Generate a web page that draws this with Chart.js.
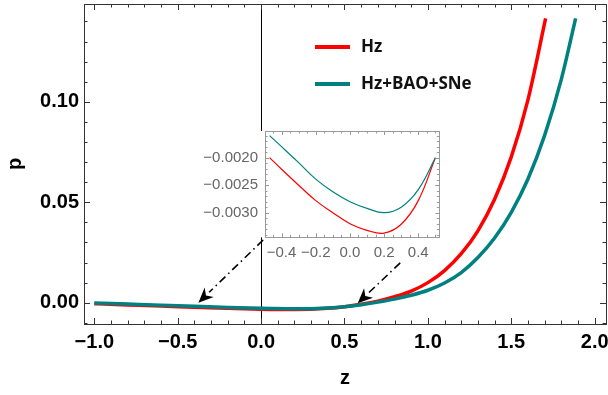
<!DOCTYPE html>
<html>
<head>
<meta charset="utf-8">
<script src="https://cdn.jsdelivr.net/npm/chart.js@4.4.1/dist/chart.umd.min.js"></script>
<style>
  body { margin: 0; background: #fff; }
  #wrap { position: relative; width: 608px; height: 395px; }
  #inset { position: absolute; left: 190px; top: 125px; }
  .legLine { position: absolute; left: 315px; width: 35px; height: 3.5px; }
  .legText { position: absolute; left: 361px; font: bold 17px "Open Sans", sans-serif; color: #111; line-height: 20px; }
</style>
</head>
<body>
<div id="wrap">
  <canvas id="main" width="608" height="395"></canvas>
  <canvas id="inset" width="255" height="140"></canvas>
  <div class="legLine" style="top:45px;background:#ff0000"></div>
  <div class="legText" style="top:36px">Hz</div>
  <div class="legLine" style="top:82px;background:#008080"></div>
  <div class="legText" style="top:73px">Hz+BAO+SNe</div>
</div>
<script>
// colours
const RED = "#ff0000";
const TEAL = "#008080";

// main plot: Hz
const zHz = [-1.0, -0.8, -0.6, -0.4, -0.2, 0.0, 0.2, 0.4, 0.5, 0.6, 0.7, 0.8, 0.9, 1.0, 1.1, 1.2, 1.3, 1.4, 1.5, 1.6, 1.706];
const pHz = [-0.0005, -0.0011, -0.0017, -0.00221, -0.00278, -0.0032, -0.00337, -0.00278, -0.00200, -0.0008, 0.0008, 0.0030, 0.0058, 0.0100, 0.0160, 0.0244, 0.0358, 0.0515, 0.0726, 0.1010, 0.1415];

// main plot: Hz+BAO+SNe
const zAll = [-1.0, -0.8, -0.6, -0.4, -0.2, 0.0, 0.2, 0.4, 0.5, 0.6, 0.7, 0.8, 0.9, 1.0, 1.1, 1.2, 1.3, 1.4, 1.5, 1.6, 1.7, 1.8, 1.886];
const pAll = [-0.0001, -0.0007, -0.0013, -0.0018, -0.00239, -0.0028, -0.0030, -0.00258, -0.00200, -0.0010, 0.0003, 0.0018, 0.0037, 0.0062, 0.0098, 0.0150, 0.0225, 0.0322, 0.0450, 0.0616, 0.0833, 0.1112, 0.1415];

// inset (zoom on -0.5 < z < 0.5)
const zInset = [-0.47, -0.4, -0.3, -0.2, -0.1, 0.0, 0.1, 0.2, 0.3, 0.4, 0.5];
const pHzInset = [-0.00200, -0.00221, -0.00250, -0.00278, -0.00300, -0.00320, -0.00332, -0.00337, -0.00321, -0.00278, -0.00200];
const pAllInset = [-0.00160, -0.00180, -0.00209, -0.00239, -0.00262, -0.00280, -0.00292, -0.00300, -0.00290, -0.00258, -0.00200];

// tick values
const xMajor = [-1.0, -0.5, 0.0, 0.5, 1.0, 1.5, 2.0];
const yMajor = [0.0, 0.05, 0.10];
const xInsetMajor = [-0.4, -0.2, 0.0, 0.2, 0.4];
const yInsetMajor = [-0.0030, -0.0025, -0.0020];

// arrows (z, p) from inset to the curves
const arrowFrom = [[0.012, 0.0312], [0.834, 0.0198]];
const arrowTo = [[-0.376, 0.0], [0.579, -0.0003]];

function pts(xs, ys) { return xs.map((x, i) => ({ x: x, y: ys[i] })); }
function fmt(v, d) { return (v < -1e-9 ? "\u2212" : "") + Math.abs(v).toFixed(d); }
function range(a, b, step) { const out = []; for (let v = a; v <= b + step / 1e3; v += step) out.push(+v.toFixed(6)); return out; }
function noPad(s) { s.paddingLeft = 0; s.paddingRight = 0; s.paddingTop = 0; s.paddingBottom = 0; }

// frame with inward ticks on all four sides
function drawFrame(chart, o) {
  const { ctx, chartArea: a, scales: { x, y } } = chart;
  ctx.save();
  ctx.strokeStyle = o.color;
  ctx.lineWidth = 1;
  ctx.strokeRect(Math.round(a.left) + 0.5, Math.round(a.top) + 0.5, Math.round(a.right - a.left), Math.round(a.bottom - a.top));
  ctx.beginPath();
  o.xTicks.forEach(([v, len]) => {
    const px = Math.round(x.getPixelForValue(v)) + 0.5;
    ctx.moveTo(px, a.bottom); ctx.lineTo(px, a.bottom - len);
    ctx.moveTo(px, a.top); ctx.lineTo(px, a.top + len);
  });
  o.yTicks.forEach(([v, len]) => {
    const py = Math.round(y.getPixelForValue(v)) + 0.5;
    ctx.moveTo(a.left, py); ctx.lineTo(a.left + len, py);
    ctx.moveTo(a.right, py); ctx.lineTo(a.right - len, py);
  });
  ctx.stroke();
  ctx.restore();
}

function tickList(minor, major, lMinor, lMajor, lo, hi) {
  return range(lo, hi, minor).map(v => [v, major.some(m => Math.abs(m - v) < minor / 10) ? lMajor : lMinor]);
}

const mainFrame = {
  id: "mainFrame",
  beforeDatasetsDraw(chart) {
    const { ctx, chartArea: a, scales: { x } } = chart;
    const px = Math.round(x.getPixelForValue(0)) + 0.5;
    ctx.save();
    ctx.strokeStyle = "#000";
    ctx.lineWidth = 1;
    ctx.beginPath(); ctx.moveTo(px, a.top); ctx.lineTo(px, a.bottom); ctx.stroke();
    ctx.restore();
  },
  afterDatasetsDraw(chart) {
    const { ctx, scales: { x, y } } = chart;
    drawFrame(chart, {
      color: "#333",
      xTicks: tickList(0.1, xMajor, 3.5, 6, -1.0, 2.0),
      yTicks: tickList(0.01, yMajor, 3.5, 6, -0.01, 0.14)
    });
    ctx.save();
    arrowFrom.forEach((f, i) => {
      const x1 = x.getPixelForValue(f[0]), y1 = y.getPixelForValue(f[1]);
      const x2 = x.getPixelForValue(arrowTo[i][0]), y2 = y.getPixelForValue(arrowTo[i][1]);
      const len = Math.hypot(x2 - x1, y2 - y1), ux = (x2 - x1) / len, uy = (y2 - y1) / len;
      const hl = 15, hw = 6.5;
      ctx.strokeStyle = "#000";
      ctx.lineWidth = 1.6;
      ctx.setLineDash([8, 4, 1.5, 4]);
      ctx.beginPath(); ctx.moveTo(x1, y1); ctx.lineTo(x2 - ux * hl, y2 - uy * hl); ctx.stroke();
      ctx.setLineDash([]);
      ctx.fillStyle = "#000";
      ctx.beginPath();
      ctx.moveTo(x2, y2);
      ctx.lineTo(x2 - ux * hl - uy * hw, y2 - uy * hl + ux * hw);
      ctx.lineTo(x2 - ux * hl * 0.7, y2 - uy * hl * 0.7);
      ctx.lineTo(x2 - ux * hl + uy * hw, y2 - uy * hl - ux * hw);
      ctx.closePath(); ctx.fill();
    });
    ctx.restore();
  }
};

const insetFrame = {
  id: "insetFrame",
  beforeDraw(chart) {
    const { ctx, chartArea: a } = chart;
    ctx.save(); ctx.fillStyle = "#fff";
    ctx.fillRect(a.left - 5, a.top, a.right - a.left + 5, a.bottom - a.top);
    ctx.restore();
  },
  afterDatasetsDraw(chart) {
    drawFrame(chart, {
      color: "#999",
      xTicks: tickList(0.05, xInsetMajor, 2.5, 4, -0.45, 0.5),
      yTicks: tickList(0.0001, yInsetMajor, 2.5, 4, -0.0034, -0.0016)
    });
  }
};

const boldTick = { family: "Liberation Sans", size: 20, weight: "bold" };

new Chart(document.getElementById("main"), {
  type: "line",
  data: {
    datasets: [
      { label: "Hz+BAO+SNe", data: pts(zAll, pAll), borderColor: TEAL, borderWidth: 3.5, pointRadius: 0, cubicInterpolationMode: "monotone", order: 0 },
      { label: "Hz", data: pts(zHz, pHz), borderColor: RED, borderWidth: 3.5, pointRadius: 0, cubicInterpolationMode: "monotone", order: 1 }
    ]
  },
  options: {
    responsive: false,
    animation: false,
    layout: { padding: { top: 4, right: 2, left: 0, bottom: 0 } },
    plugins: { legend: { display: false }, tooltip: { enabled: false } },
    scales: {
      x: {
        type: "linear", min: -1.062, max: 2.068,
        grid: { display: false, drawTicks: false }, border: { display: false },
        afterBuildTicks: s => { s.ticks = xMajor.map(v => ({ value: v })); },
        afterFit: s => { s.height = 71; noPad(s); },
        ticks: { callback: v => fmt(v, 1), color: "#000", font: boldTick, padding: 6, maxRotation: 0, autoSkip: false },
        title: { display: true, text: "z", color: "#000", font: boldTick, padding: { top: 0, bottom: 5 } }
      },
      y: {
        type: "linear", min: -0.0106, max: 0.1487,
        grid: { display: false, drawTicks: false }, border: { display: false },
        afterBuildTicks: s => { s.ticks = yMajor.map(v => ({ value: v })); },
        afterFit: s => { s.width = 84; noPad(s); },
        ticks: { callback: v => fmt(v, 2), color: "#000", font: boldTick, padding: 5, autoSkip: false },
        title: { display: true, text: "p", color: "#000", font: boldTick, padding: { top: 3, bottom: 0 } }
      }
    }
  },
  plugins: [mainFrame]
});

const insetFont = { family: "Liberation Sans", size: 15 };

new Chart(document.getElementById("inset"), {
  type: "line",
  data: {
    datasets: [
      { label: "Hz+BAO+SNe", data: pts(zInset, pAllInset), borderColor: TEAL, borderWidth: 1.2, pointRadius: 0, tension: 0.4 },
      { label: "Hz", data: pts(zInset, pHzInset), borderColor: RED, borderWidth: 1.2, pointRadius: 0, tension: 0.4 }
    ]
  },
  options: {
    responsive: false,
    animation: false,
    layout: { padding: { top: 6, right: 5.7, left: 0, bottom: 0 } },
    plugins: { legend: { display: false }, tooltip: { enabled: false } },
    scales: {
      x: {
        type: "linear", min: -0.497, max: 0.523,
        grid: { display: false, drawTicks: false }, border: { display: false },
        afterBuildTicks: s => { s.ticks = xInsetMajor.map(v => ({ value: v })); },
        afterFit: s => { s.height = 27.7; noPad(s); },
        ticks: { callback: v => fmt(v, 1), color: "#666", font: insetFont, padding: 7, maxRotation: 0, autoSkip: false }
      },
      y: {
        type: "linear", min: -0.003447, max: -0.001515,
        grid: { display: false, drawTicks: false }, border: { display: false },
        afterBuildTicks: s => { s.ticks = yInsetMajor.map(v => ({ value: v })); },
        afterFit: s => { s.width = 75; noPad(s); },
        ticks: { callback: v => fmt(v, 4), color: "#666", font: insetFont, padding: 7, autoSkip: false }
      }
    }
  },
  plugins: [insetFrame]
});
</script>
</body>
</html>
